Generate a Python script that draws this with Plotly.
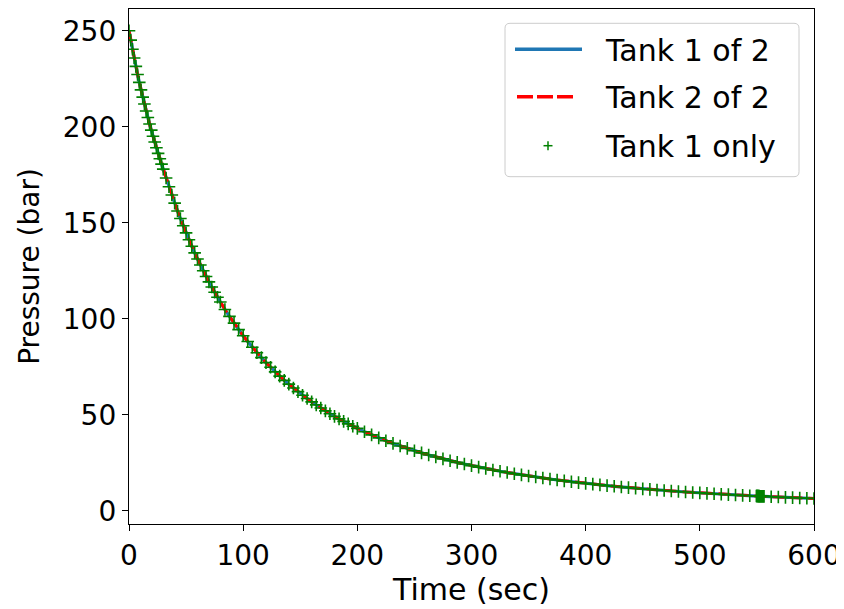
import plotly.graph_objects as go

# ---- data ----
time_s = [
    0, 1.5, 3, 4.5, 6, 7.5, 9, 10.5, 12, 13.5, 15, 16.5, 18, 19.5, 21, 22.5, 24, 25.5, 27, 28.5,
    30, 32.5, 35, 37.5, 40, 42.5, 45, 47.5, 50, 52.5, 55, 57.5, 60, 62.5, 65, 67.5, 70, 72.5, 75, 77.5,
    80, 84, 88, 92, 96, 100, 104, 108, 112, 116, 120, 124, 128, 132, 136, 140, 144, 148, 152, 156,
    160, 164, 168, 172, 176, 180, 184, 188, 192, 196,
    200, 206.25, 212.5, 218.75, 225, 231.25, 237.5, 243.75, 250, 256.25, 262.5, 268.75, 275, 281.25,
    287.5, 293.75, 300, 306.25, 312.5, 318.75, 325, 331.25, 337.5, 343.75, 350, 356.25, 362.5, 368.75,
    375, 381.25, 387.5, 393.75, 400, 406.25, 412.5, 418.75, 425, 431.25, 437.5, 443.75, 450, 456.25,
    462.5, 468.75, 475, 481.25, 487.5, 493.75, 500, 506.25, 512.5, 518.75, 525, 531.25, 537.5, 543.75,
    550, 556.25, 562.5, 568.75, 575, 581.25, 587.5, 593.75, 600,
]
pressure_bar = [
    250.0, 245.1, 240.3, 235.8, 231.4, 227.2, 223.1, 219.2, 215.4, 211.8, 208.2, 204.8, 201.4, 198.2,
    195.0, 192.0, 189.0, 186.1, 183.3, 180.5,
    177.9, 173.3, 168.7, 164.4, 160.2, 156.1, 152.2, 148.4, 144.7, 141.1, 137.7, 134.3, 131.1, 128.0,
    125.0, 122.0, 119.2, 116.5, 113.8, 111.2,
    108.7, 104.8, 101.2, 97.7, 94.3, 91.1, 88.1, 85.1, 82.3, 79.7, 77.1, 74.7, 72.3, 70.1, 67.9, 65.9,
    63.9, 62.0, 60.1, 58.4, 56.7, 55.1, 53.5, 52.0, 50.5, 49.1, 47.8, 46.5, 45.2, 44.0,
    42.87, 41.13, 39.48, 37.93, 36.45, 35.05, 33.72, 32.45, 31.25, 30.11, 29.02, 27.98, 26.99, 26.05,
    25.16, 24.30, 23.48, 22.70, 21.95, 21.23, 20.55, 19.89, 19.26, 18.66, 18.08, 17.53, 17.00, 16.49,
    16.00, 15.53, 15.08, 14.64, 14.22, 13.82, 13.43, 13.06, 12.70, 12.36, 12.02, 11.70, 11.39, 11.09,
    10.80, 10.52, 10.25, 9.99, 9.74, 9.49, 9.26, 9.03, 8.81, 8.60, 8.39, 8.19, 8.00, 7.81,
    7.63, 7.45, 7.28, 7.12, 6.96, 6.80, 6.65, 6.50, 6.36,
]
# dense cluster of "Tank 1 only" samples near t = 550 s
cluster_time_s = [549.5, 550, 550.5, 551, 551.5, 552, 552.5, 553, 553.5, 554, 554.5, 555, 555.5]
cluster_pressure_bar = [7.64, 7.63, 7.62, 7.60, 7.59, 7.58, 7.56, 7.55, 7.54, 7.53, 7.51, 7.50, 7.49]

series_names = ["Tank 1 of 2", "Tank 2 of 2", "Tank 1 only"]
x_ticks = [0, 100, 200, 300, 400, 500, 600]
y_ticks = [0, 50, 100, 150, 200, 250]

# merge the cluster into the "Tank 1 only" series (sorted by time)
t1_only = sorted(zip(time_s + cluster_time_s, pressure_bar + cluster_pressure_bar))
t1_only_t = [p[0] for p in t1_only]
t1_only_p = [p[1] for p in t1_only]

FONT = "DejaVu Sans"
BLUE, RED, GREEN = "#1f77b4", "#ff0000", "#008000"

fig = go.Figure()
fig.add_trace(go.Scatter(
    x=time_s, y=pressure_bar, name=series_names[0], mode="lines",
    line=dict(color=BLUE, width=3.2), showlegend=False))
fig.add_trace(go.Scatter(
    x=time_s, y=pressure_bar, name=series_names[1], mode="lines",
    line=dict(color=RED, width=3, dash="12px,6px"), showlegend=False))
fig.add_trace(go.Scatter(
    x=t1_only_t, y=t1_only_p, name=series_names[2], mode="markers",
    marker=dict(symbol="cross-thin", size=9, color=GREEN,
                line=dict(color=GREEN, width=1.6)), showlegend=False))

# ---- legend drawn in paper coordinates (matplotlib-style box) ----
PL, PW, PT, PH = 121, 685, 1, 515   # plot area in figure pixels


def px(xr):  # reference-screen x -> paper x
    return (xr - 8 - PL) / PW


def py(yr):  # reference-screen y -> paper y
    return 1 - (yr - 8 - PT) / PH


bx0, bx1, by0, by1 = px(505), px(799), py(176.7), py(23.3)
rx, ry = 5 / PW, 5 / PH
box_path = (
    f"M{bx0 + rx},{by1} L{bx1 - rx},{by1} Q{bx1},{by1} {bx1},{by1 - ry} "
    f"L{bx1},{by0 + ry} Q{bx1},{by0} {bx1 - rx},{by0} "
    f"L{bx0 + rx},{by0} Q{bx0},{by0} {bx0},{by0 + ry} "
    f"L{bx0},{by1 - ry} Q{bx0},{by1} {bx0 + rx},{by1} Z"
)
shapes = [
    dict(type="path", xref="paper", yref="paper", path=box_path,
         fillcolor="rgba(255,255,255,0.8)", line=dict(color="#cccccc", width=1), layer="above"),
    dict(type="line", xref="paper", yref="paper", x0=px(515), x1=px(582), y0=py(49.3), y1=py(49.3),
         line=dict(color=BLUE, width=3.5), layer="above"),
    dict(type="line", xref="paper", yref="paper", x0=px(517), x1=px(573), y0=py(96.7), y1=py(96.7),
         line=dict(color=RED, width=3.5, dash="16px,4px"), layer="above"),
    dict(type="line", xref="paper", yref="paper", x0=px(543.5), x1=px(552.5), y0=py(145.7), y1=py(145.7),
         line=dict(color=GREEN, width=1.5), layer="above"),
    dict(type="line", xref="paper", yref="paper", x0=px(548), x1=px(548), y0=py(141.2), y1=py(150.2),
         line=dict(color=GREEN, width=1.5), layer="above"),
]
annotations = []
for name, yr in zip(series_names, [49.3, 96.7, 145.7]):
    annotations.append(dict(
        xref="paper", yref="paper", x=px(603), y=py(yr + 1), xanchor="left", yanchor="middle",
        text=name, showarrow=False, font=dict(family=FONT, size=30, color="black")))

fig.update_layout(
    width=844, height=609,
    margin=dict(l=PL, r=844 - PL - PW, t=PT, b=609 - PT - PH),
    paper_bgcolor="white", plot_bgcolor="white",
    font=dict(family=FONT, size=28, color="black"),
    showlegend=False,
    shapes=shapes, annotations=annotations,
)
fig.update_xaxes(
    range=[0, 600], tickvals=x_ticks, ticks="outside", ticklen=6, tickwidth=1.3,
    tickcolor="black", showline=True, linecolor="black", linewidth=1.3, mirror=True,
    showgrid=False, zeroline=False, automargin=False,
    title=dict(text="Time (sec)", font=dict(family=FONT, size=30), standoff=6),
    tickfont=dict(family=FONT, size=28),
)
fig.update_yaxes(
    range=[-6.93, 261.3], tickvals=y_ticks, ticks="outside", ticklen=6, tickwidth=1.3,
    tickcolor="black", showline=True, linecolor="black", linewidth=1.3, mirror=True,
    showgrid=False, zeroline=False, automargin=False,
    title=dict(text="Pressure (bar)", font=dict(family=FONT, size=28), standoff=14),
    tickfont=dict(family=FONT, size=28),
)

fig.write_html("out.html")
